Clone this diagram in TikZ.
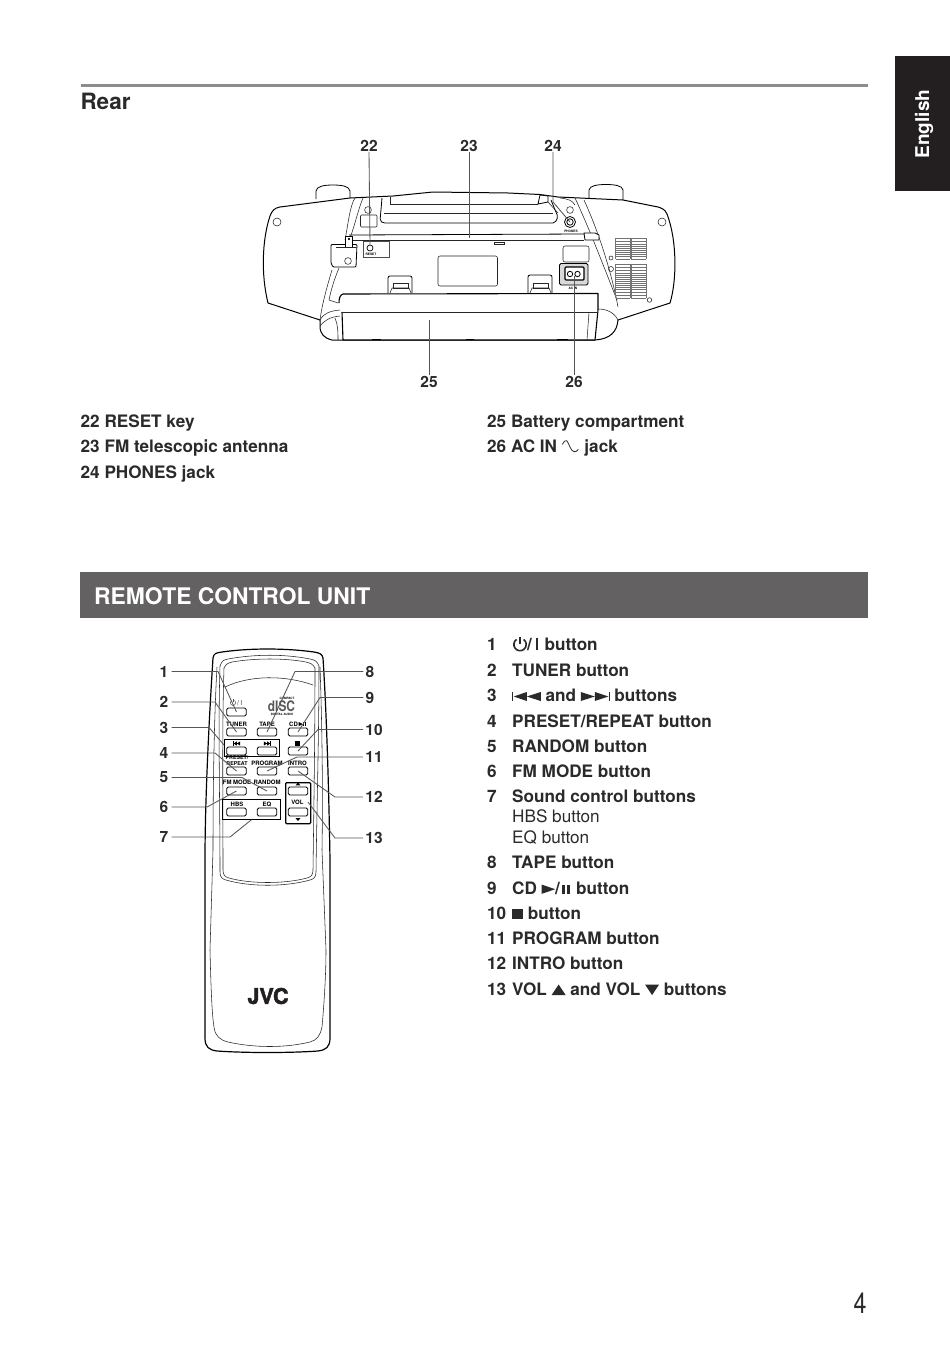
\documentclass[tikz,border=0pt]{standalone}
\usepackage{fontspec}
\setmainfont{TeX Gyre Heros}
\newfontfamily\jvcfont[BoldFeatures={FakeBold=2.2}]{TeX Gyre Heros}
\usetikzlibrary{calc}
\definecolor{tabk}{HTML}{231F20}
\definecolor{bannerg}{HTML}{636161}
\definecolor{ruleg}{HTML}{8C8C8C}
\definecolor{leadg}{HTML}{555555}
\definecolor{inkk}{HTML}{2A2A2A}
\newcommand\symbox[1]{\tikz[x=1pt,y=1pt,baseline=0pt,line width=1pt,line cap=butt]{#1}}
\newcommand\pwrsym{\symbox{\draw[line width=1.6pt] (3.64,10.58) arc[start angle=125,end angle=415,radius=6.2];\draw[line width=1.6pt] (7.2,6) -- (7.2,13);}}
\newcommand\skipbsym{\symbox{\draw[line width=.9pt] (.4,.3) -- (.4,8.7);\fill (1.5,4.5) -- (14.5,9) -- (14.5,0) -- cycle;\fill (14.5,4.5) -- (28.5,9) -- (28.5,0) -- cycle;}}
\newcommand\skipfsym{\symbox{\fill (0,0) -- (0,9) -- (14,4.5) -- cycle;\fill (14,0) -- (14,9) -- (27.5,4.5) -- cycle;\draw[line width=.9pt] (28.4,.3) -- (28.4,8.7);}}
\newcommand\playsym{\symbox{\fill (0,.2) -- (0,9.4) -- (13.5,4.8) -- cycle;}}
\newcommand\pausesym{\kern1.5pt\symbox{\fill (0,0) rectangle (3.2,8.6);\fill (5.2,0) rectangle (8.4,8.6);}\kern1.5pt}
\newcommand\stopsym{\symbox{\fill (0,0) rectangle (11,10.5);}}
\newcommand\upsym{\symbox{\fill (0,0) -- (14,0) -- (7,10.5) -- cycle;}}
\newcommand\downsym{\symbox{\fill (0,10.5) -- (14,10.5) -- (7,0) -- cycle;}}
\newcommand\acsym{\symbox{\draw[line width=.8pt] (0,8.3) .. controls (1.5,11) and (3,13) .. (4.5,12) .. controls (7,9) and (8,2) .. (11.7,1) .. controls (13.5,.6) and (15,1.8) .. (16,3.3);}}
\tikzset{
 body/.style={anchor=base west,inner sep=0pt,font=\fontsize{17.15}{20}\selectfont\bfseries,text=inkk},
 bodyreg/.style={anchor=base west,inner sep=0pt,font=\fontsize{17.15}{20}\selectfont,text=inkk},
 num/.style={inner sep=0.5pt,font=\fontsize{15.5}{18}\selectfont\bfseries,text=inkk},
 lead/.style={draw=leadg,line width=.85pt},
 unit/.style={draw=black,line width=.8pt,line join=round},
 thin/.style={draw=black!85,line width=.55pt},
 btn/.style={draw=black,line width=.8pt,rounded corners=1.5pt,inner sep=0pt,minimum width=19.5pt,minimum height=8pt},
 btxt/.style={inner sep=0pt,font=\fontsize{6}{7}\selectfont\bfseries,text=black},
 tiny/.style={inner sep=0pt,font=\fontsize{3.2}{4}\selectfont\bfseries,text=black},
 vent/.style={draw=black!55,line width=.5pt},
}
\begin{document}
\begin{tikzpicture}[x=1pt,y=-1pt]
\useasboundingbox (0,0) rectangle (950,1349);
\fill[white] (0,0) rectangle (950,1349);

% page furniture
\fill[ruleg] (80.5,83.5) rectangle (867.5,87);
\node[anchor=base west,inner sep=0pt,font=\fontsize{22.5}{26}\selectfont\bfseries,text=inkk] (title) at (80.3,109) {Rear};
\fill[tabk] (894.5,56) rectangle (950,191);
\node[rotate=90,inner sep=0pt,font=\fontsize{19}{22}\selectfont\bfseries,text=white] (lang) at (924,124) {English};
\node[draw=none,fill=bannerg,anchor=north west,minimum width=788pt,minimum height=46pt,inner sep=0pt] (banner) at (80,572) {};
\node[anchor=base west,inner sep=0pt,font=\fontsize{22.85}{26}\selectfont\bfseries,text=white] (bannertext) at (94,604) {REMOTE CONTROL UNIT};
\node[anchor=base,inner sep=0pt,xscale=.8,font=\fontsize{29}{32}\selectfont,text=inkk] (page) at (860,1313) {4};

% ===== rear view =====
% knobs
\draw[unit,fill=white] (316,199) -- (316,191) .. controls (316.5,186) and (325,185) .. (333,185) .. controls (341,185) and (349.5,186) .. (350,191) -- (350,198);
\draw[unit,fill=white] (589,198) -- (589,190) .. controls (589.5,185.5) and (598,184.5) .. (606,184.5) .. controls (614,184.5) and (622.5,185.5) .. (623,190) -- (623,200);
% wings and body outline
\draw[unit,line width=1pt] (350,198) -- (280,207) .. controls (274,208) and (272,211) .. (270,216) .. controls (262,240) and (261,275) .. (268,303) -- (320,320)
  -- (320,326) .. controls (320,334) and (324,338) .. (332,340) -- (595,340) .. controls (610,339) and (617,332) .. (618,320)
  -- (670,303) .. controls (677,280) and (677,240) .. (667,214) .. controls (665,209) and (661,208) .. (658,207) -- (623,200) -- (558,197) -- (540,194.5) -- (508,193) -- (433,192) -- (393,196) -- cycle;
% struts
\draw[thin] (355,198) .. controls (350,205) and (348,225) .. (345,240);
\draw[thin] (363,198) .. controls (358,210) and (355,225) .. (350,238);
\draw[thin] (332,270) .. controls (326,290) and (322,305) .. (320,320);
\draw[thin] (339,268) .. controls (334,280) and (331,290) .. (329,300) -- (338,303);
\draw[thin] (320,320) .. controls (324,313) and (330,311) .. (340,310);
\draw[thin] (320,326) .. controls (325,320) and (330,317) .. (340,316);
\draw[thin] (560,198) .. controls (568,199) and (572,200) .. (575,205);
\draw[thin] (575,198) .. controls (590,230) and (605,270) .. (617,300);
\draw[thin] (584,200) .. controls (600,235) and (612,275) .. (618,307);
\draw[thin] (598,309) .. controls (606,309) and (614,312) .. (618,320);
% tape recess
\draw[unit,rounded corners=2pt] (382,198) -- (380,221) -- (383,223) -- (555,223) -- (558,217) -- (551,200);
\draw[thin] (384,213) -- (553,213);
\draw[thin] (390,204) -- (538,204);
\draw[thin] (390,197) -- (390,204);
\draw[unit,fill=white] (538,204) -- (540,195) -- (548,196) -- (548,202) -- cycle;
\draw[thin] (548,202) -- (558,213);
% antenna bar
\draw[unit] (349,235) -- (584,234);
\draw[thin] (349,240) -- (584,240);
\draw[unit,fill=white] (584,233) -- (595,233) -- (599,235) -- (599,240) -- (585,240) -- cycle;
\draw[thin] (494,242) rectangle (504,244.5);
% upper small parts
\draw[thin] (368,210) circle[radius=3.4];
\draw[thin,rounded corners=1pt] (360.5,215) rectangle (377,227);
\draw[thin] (570,210) circle[radius=3.4];
\node[draw=black,line width=.8pt,circle,minimum size=11pt,inner sep=0pt] (phones) at (570,222) {};
\draw[unit] (570,222) circle[radius=3.2];
\node[tiny] (phonestext) at (571,231) {PHONES};
% reset box
\node[draw=black!70,line width=.6pt,minimum width=26pt,minimum height=16pt,inner sep=0pt] (resetbox) at (376,249) {};
\node[draw=black,line width=.7pt,circle,minimum size=6pt,inner sep=0pt] (resetkey) at (370,248) {};
\node[tiny] (resettext) at (371,254) {RESET};
% clamp on left
\draw[unit,fill=white,rounded corners=1pt] (331,244.5) -- (331,263) -- (333,267) -- (356,267) -- (357,244.5) -- cycle;
\draw[unit,fill=white] (345,236) rectangle (352,247);
\draw[thin] (336,247) -- (356,247);
\draw[thin] (348,261) circle[radius=3.4];
\draw[thin] (348.5,238) rectangle (349.5,239);
% label area and tabs
\draw[thin,rounded corners=2pt] (438,256) rectangle (497.5,286);
\draw[unit,rounded corners=2pt] (388,293) -- (388,276) -- (412,276) -- (412,293);
\draw[thin] (393,283) rectangle (408,288);
\draw[thin] (390,293) -- (392,288) -- (409,288) -- (411,293);
\draw[unit,rounded corners=2pt] (528,293) -- (528,275) -- (552,275) -- (552,293);
\draw[thin] (533,283) rectangle (548,288);
\draw[thin] (530,293) -- (532,288) -- (549,288) -- (551,293);
% AC socket
\draw[thin,rounded corners=2pt] (563,246) rectangle (589,262);
\draw[unit,fill=black!15,rounded corners=1.5pt] (559.5,263.5) rectangle (588,285);
\draw[unit,fill=white,line width=1.2pt,rounded corners=1pt] (565,267) rectangle (584,280);
\draw[unit] (570,274) circle[radius=2.7];
\draw[unit] (577.5,274) circle[radius=2.7];
\node[tiny] (actext) at (573,288) {AC IN};
% battery compartment
\draw[unit,line width=1.1pt,fill=white] (339,303) .. controls (339,298) and (340,295) .. (343,294) -- (598,293.5) -- (598,310) -- (595,340) -- (343,340) -- (342,312);
\draw[thin] (342,312) -- (598,312);
\draw[thin] (589,312) -- (587,340);
\draw[thin] (335,318) .. controls (338,325) and (338,332) .. (338,340);
\draw[unit] (372,340) -- (372,339) -- (380,339) -- (380,340);
\draw[unit] (466,340) -- (466,339) -- (473,339) -- (473,340);
\draw[unit] (557,340) -- (557,339) -- (567,339) -- (567,340);
% vents
\foreach \xa/\xb in {615.5/630,631/646}{
  \foreach \yy in {238,241,244,246,248,250,252,254,256,259}{\draw[vent] (\xa,\yy) -- (\xb,\yy);}
  \foreach \yy in {264,267,270,273,275,277,279,281,283,285,287,289,292,295,298}{\draw[vent] (\xa,\yy) -- (\xb,\yy);}
  \draw[vent] (\xa,238) -- (\xa,259) (\xb,238) -- (\xb,259) (\xa,264) -- (\xa,298) (\xb,264) -- (\xb,298);
}
% screws
\draw[thin] (277,222) circle[radius=4];
\draw[thin] (662,222) circle[radius=4];
\draw[thin] (611,258) circle[radius=2];
\draw[thin] (611,269) circle[radius=2.5];
\draw[thin] (649.5,300) circle[radius=2.3];

% rear labels and leaders
\node[num] (n22) at (369,145.5) {22};
\node[num] (n23) at (469,145.5) {23};
\node[num] (n24) at (553,145.5) {24};
\node[num] (n25) at (429,381.5) {25};
\node[num] (n26) at (574,381.5) {26};
\coordinate (c23) at (469,238);
\coordinate (c25) at (429,320);
\coordinate (c24b) at (553,202);
\coordinate (c26) at (574,276);
\draw[lead] (n22.south) -- (resetkey.north);
\draw[lead] (n23.south) -- (c23);
\draw[lead] (n24.south) -- (c24b) -- (phones.center);
\draw[lead] (n25.north) -- (c25);
\draw[lead] (n26.north) -- (c26);

% rear legend
\node[body] (r22) at (80.5,427.7) {22 RESET key};
\node[body] (r23) at (80.5,452.7) {23 FM telescopic antenna};
\node[body] (r24) at (80.5,478.7) {24 PHONES jack};
\node[body] (r25) at (487,427.7) {25 Battery compartment};
\node[body] (r26) at (487,452.7) {26 AC IN \acsym\kern1pt{} jack};

% ===== remote =====
\draw[unit,line width=1.2pt] (213,658) .. controls (214,653) and (216,653) .. (222,652) .. controls (250,648) and (285,648) .. (314,652) .. controls (320,653) and (322,654) .. (323,658)
  .. controls (327,720) and (329,800) .. (330,860) -- (330,1038) .. controls (330,1047) and (326,1050) .. (318,1051) .. controls (290,1053) and (245,1053) .. (217,1051) .. controls (209,1050) and (205,1047) .. (205,1038) -- (205,860) .. controls (205,800) and (209,720) .. (213,658) -- cycle;
% inner body outline
\draw[thin] (217,667) .. controls (214,720) and (213,790) .. (213,850) -- (210,950) .. controls (211,990) and (212,1015) .. (214,1027) .. controls (215,1036) and (220,1040) .. (228,1042) .. controls (255,1048) and (285,1048) .. (310,1042) .. controls (317,1040) and (320,1036) .. (322,1027) .. controls (324,1005) and (326,975) .. (326,950) -- (322,850) .. controls (323,790) and (322,720) .. (320,667);
% window, double outline
\draw[thin] (220,666) .. controls (222,661) and (223,660) .. (228,659) .. controls (255,654) and (285,654) .. (310,659) .. controls (315,660) and (317,661) .. (319,666) .. controls (319,730) and (317,800) .. (316,872) .. controls (316,877) and (314,879) .. (310,880) .. controls (285,887) and (250,887) .. (226,880) .. controls (222,879) and (220,877) .. (220,872) .. controls (220,800) and (218,730) .. (220,666) -- cycle;
\draw[thin] (224,668) .. controls (226,664) and (228,663) .. (232,662) .. controls (255,658) and (285,658) .. (306,662) .. controls (310,663) and (313,664) .. (315,668) .. controls (315,730) and (314,800) .. (313,870) .. controls (313,875) and (311,877) .. (307,878) .. controls (285,884) and (250,884) .. (229,878) .. controls (225,877) and (223,875) .. (223,870) .. controls (223,800) and (222,730) .. (224,668) -- cycle;
\draw[thin] (225,687) .. controls (250,675) and (285,675) .. (313,685);
% button groups
\node[draw=black,line width=.8pt,anchor=north west,minimum width=55pt,minimum height=17pt,inner sep=0pt] (grp3) at (224,739) {};
\node[draw=black,line width=.8pt,anchor=north west,minimum width=58pt,minimum height=20pt,inner sep=0pt] (grp7) at (222,799) {};
\node[draw=black,line width=1.3pt,anchor=north west,rounded corners=1pt,minimum width=25pt,minimum height=41pt,inner sep=0pt] (grpvol) at (285,782) {};
% buttons
\node[btn] (bpower) at (236.5,712) {};
\node[btn] (btuner) at (236.5,732) {};
\node[btn] (btape) at (267,732) {};
\node[btn] (bcd) at (298,732) {};
\node[btn] (bprev) at (236.5,751) {};
\node[btn] (bnext) at (267,751) {};
\node[btn] (bstop) at (298,751) {};
\node[btn] (bpreset) at (236.5,771) {};
\node[btn] (bprog) at (267,771) {};
\node[btn] (bintro) at (298,771) {};
\node[btn] (bfm) at (236.5,791) {};
\node[btn] (brandom) at (267,791) {};
\node[btn] (bvolup) at (298,791) {};
\node[btn] (bhbs) at (236.5,812) {};
\node[btn] (beq) at (267,812) {};
\node[btn] (bvoldn) at (298,812) {};
% button captions
\node[btxt,font=\fontsize{7}{8}\selectfont,text=black!70] (tpower) at (236,702.5) {\symbox{\draw[line width=.45pt] (2.1,4.8) arc[start angle=125,end angle=415,radius=2.7];\draw[line width=.45pt] (3.6,3) -- (3.6,6.2);}\,/\,I};
\node[btxt] (ttuner) at (236.5,724) {TUNER};
\node[btxt] (ttape) at (267,724) {TAPE};
\node[btxt] (tcd) at (297.5,724) {CD\kern.8pt\symbox{\fill (0,0) -- (0,4.2) -- (4,2.1) -- cycle;\fill (4.8,0) rectangle (5.6,4.2);\fill (6.4,0) rectangle (7.2,4.2);}};
\node[btxt] (tprev) at (236.5,743.5) {\symbox{\fill (0,0) rectangle (.8,4.2);\fill (.8,2.1) -- (4,4.2) -- (4,0) -- cycle;\fill (4,2.1) -- (7.4,4.2) -- (7.4,0) -- cycle;}};
\node[btxt] (tnext) at (267.5,743.5) {\symbox{\fill (0,0) -- (0,4.2) -- (3.4,2.1) -- cycle;\fill (3.4,0) -- (3.4,4.2) -- (6.6,2.1) -- cycle;\fill (6.6,0) rectangle (7.4,4.2);}};
\node[btxt] (tstop) at (297.5,743.5) {\symbox{\fill (0,0) rectangle (4.4,4.4);}};
\node[btxt,align=center,font=\fontsize{5.3}{6}\selectfont\bfseries] (tpreset) at (237,761) {PRESET/\\REPEAT};
\node[btxt] (tprog) at (267,763.5) {PROGRAM};
\node[btxt] (tintro) at (297.5,763.5) {INTRO};
\node[btxt] (tfm) at (237,782.5) {FM MODE};
\node[btxt] (trandom) at (267,782.5) {RANDOM};
\node[btxt] (thbs) at (237,804.5) {HBS};
\node[btxt] (teq) at (267,804.5) {EQ};
\node[btxt] (tvol) at (297.5,802) {VOL};
\fill (295.5,785.3) -- (300.5,785.3) -- (298,782.7) -- cycle;
\fill (295.5,818) -- (300.5,818) -- (298,821) -- cycle;
% compact disc logo
\node[inner sep=0pt,font=\fontsize{3}{3.5}\selectfont\bfseries] (cd1) at (287,698) {COMPACT};
\node[inner sep=0pt,xscale=.82,font=\fontsize{14.5}{14.5}\selectfont\bfseries,text=black!65] (cd2) at (281.5,706) {dISC};
\node[inner sep=0pt,font=\fontsize{3}{3.5}\selectfont\bfseries] (cd3) at (282,714.5) {DIGITAL AUDIO};
% JVC logo
\node[inner sep=0pt,font=\jvcfont\fontsize{21.5}{22}\selectfont\bfseries,xscale=1.0,text=tabk] (jvc) at (268,996) {JVC};
% callouts
\foreach \nm/\tx/\xx/\yy in {n1/1/164/671.5,n2/2/164/702,n3/3/164/727.5,n4/4/164/753,n5/5/164/777.5,n6/6/164/807,n7/7/164/837}{
  \node[num,inner xsep=3pt] (\nm) at (\xx,\yy) {\tx};
}
\foreach \nm/\tx/\xx/\yy in {n8/8/370/671.5,n9/9/370/697.5,n10/10/374/729.5,n11/11/374/757,n12/12/374/797,n13/13/374/838}{
  \node[num,inner xsep=2pt] (\nm) at (\xx,\yy) {\tx};
}
\coordinate (c1) at (218,671.5);
\coordinate (c2) at (215,702);
\coordinate (c3) at (209,727.5);
\coordinate (c4) at (215,753);
\coordinate (c5) at (242,777.5);
\coordinate (c6) at (207,807);
\coordinate (c7) at (230,837);
\coordinate (c8) at (295,671.5);
\coordinate (c9) at (320,697.5);
\coordinate (c10) at (318,729.5);
\coordinate (c11) at (297,757);
\coordinate (c12) at (335,797);
\coordinate (c13) at (335,838);
\coordinate (e3) at (224,745);
\coordinate (e13) at (308,802);
\draw[lead] (n1.east) -- (c1) -- (bpower.center);
\draw[lead] (n2.east) -- (c2) -- (btuner.center);
\draw[lead] (n3.east) -- (c3) -- (e3);
\draw[lead] (n4.east) -- (c4) -- (bpreset.center);
\draw[lead] (n5.east) -- (c5) -- (brandom.center);
\draw[lead] (n6.east) -- (c6) -- (bfm.center);
\draw[lead] (n7.east) -- (c7) -- (grp7.south);
\draw[lead] (n8.west) -- (c8) -- (btape.center);
\draw[lead] (n9.west) -- (c9) -- (bcd.center);
\draw[lead] (n10.west) -- (c10) -- (bstop.center);
\draw[lead] (n11.west) -- (c11) -- (bprog.center);
\draw[lead] (n12.west) -- (c12) -- (bintro.center);
\draw[lead] (n13.west) -- (c13) -- (e13);

% remote legend
\foreach \nm/\tx/\yy in {a1/1/650,a2/2/676,a3/3/701,a4/4/727,a5/5/752,a6/6/777,a7/7/802,a8/8/868,a9/9/894,a10/10/919,a11/11/944,a12/12/969,a13/13/995}{
  \node[body] (\nm) at (487,\yy) {\tx};
}
\node[body] (b1) at (512,650) {\pwrsym/\kern4.5pt\rule{1.6pt}{12.4pt}\kern1.7pt{} button};
\node[body] (b2) at (512,676) {TUNER button};
\node[body] (b3) at (512,701) {\skipbsym{} and \skipfsym{} buttons};
\node[body] (b4) at (512,727) {PRESET/REPEAT button};
\node[body] (b5) at (512,752) {RANDOM button};
\node[body] (b6) at (512,777) {FM MODE button};
\node[body] (b7) at (512,802) {Sound control buttons};
\node[bodyreg] (b7a) at (512,822) {HBS button};
\node[bodyreg] (b7b) at (512,843) {EQ button};
\node[body] (b8) at (512,868) {TAPE button};
\node[body] (b9) at (512,894) {CD \playsym/\pausesym{} button};
\node[body] (b10) at (512,919) {\stopsym{} button};
\node[body] (b11) at (512,944) {PROGRAM button};
\node[body] (b12) at (512,969) {INTRO button};
\node[body] (b13) at (512,995) {VOL \upsym{} and VOL \downsym{} buttons};
\end{tikzpicture}
\end{document}
